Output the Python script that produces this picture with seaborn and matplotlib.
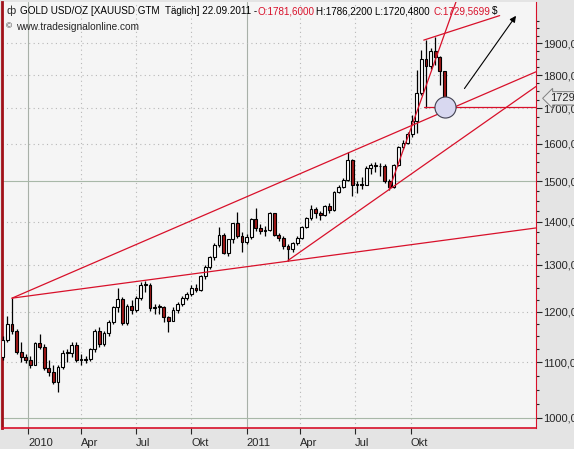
import numpy as np
import pandas as pd
import seaborn as sns
import matplotlib.pyplot as plt
import matplotlib.ticker as mticker
from matplotlib.patches import FancyArrowPatch

sns.set_style("white")
plt.rcParams['font.family'] = ['Liberation Sans', 'DejaVu Sans']

# weekly gold candles, 20.11.2009 .. 22.09.2011 (week index 0..96)
opens = [1110, 1143, 1175, 1160, 1119, 1110, 1104, 1096, 1138, 1130, 1090, 1082, 1064, 1092, 1117, 1118,
         1134, 1104, 1104, 1106, 1125, 1161, 1136, 1156, 1179, 1209, 1227, 1177, 1212, 1203, 1229, 1256,
         1256, 1208, 1210, 1209, 1189, 1181, 1204, 1215, 1228, 1237, 1249, 1246, 1275, 1296, 1317, 1346,
         1369, 1327, 1358, 1397, 1366, 1352, 1363, 1406, 1384, 1377, 1380, 1421, 1368, 1361, 1342, 1337,
         1349, 1361, 1388, 1409, 1430, 1421, 1417, 1437, 1429, 1474, 1486, 1504, 1556, 1491, 1493, 1492,
         1536, 1542, 1541, 1539, 1500, 1486, 1542, 1590, 1601, 1628, 1663, 1745, 1851, 1828, 1877, 1856,
         1812]
closes = [1143, 1175, 1160, 1119, 1110, 1104, 1096, 1138, 1130, 1090, 1082, 1064, 1092, 1117, 1118, 1134,
          1104, 1104, 1106, 1125, 1161, 1136, 1156, 1179, 1209, 1227, 1177, 1212, 1203, 1229, 1256, 1256,
          1208, 1210, 1209, 1189, 1181, 1204, 1215, 1228, 1237, 1249, 1246, 1275, 1296, 1317, 1346, 1369,
          1327, 1358, 1397, 1366, 1352, 1363, 1406, 1384, 1377, 1380, 1421, 1368, 1361, 1342, 1337, 1349,
          1361, 1388, 1409, 1430, 1421, 1417, 1437, 1429, 1474, 1486, 1504, 1556, 1491, 1493, 1492, 1536,
          1542, 1541, 1539, 1500, 1486, 1542, 1590, 1601, 1628, 1663, 1745, 1851, 1828, 1877, 1856, 1812,
          1730]
highs = [1150, 1190, 1228, 1165, 1140, 1115, 1112, 1140, 1155, 1135, 1105, 1095, 1095, 1123, 1125, 1140,
         1140, 1115, 1112, 1128, 1165, 1168, 1160, 1182, 1212, 1249, 1230, 1215, 1225, 1232, 1262, 1265,
         1260, 1216, 1215, 1211, 1192, 1210, 1220, 1232, 1240, 1255, 1258, 1278, 1300, 1320, 1350, 1387,
         1372, 1360, 1398, 1424, 1375, 1370, 1410, 1432, 1395, 1390, 1424, 1422, 1372, 1365, 1348, 1352,
         1365, 1390, 1412, 1440, 1435, 1425, 1440, 1445, 1476, 1490, 1510, 1577, 1560, 1500, 1512, 1540,
         1548, 1550, 1548, 1545, 1505, 1545, 1595, 1610, 1632, 1681, 1815, 1880, 1912, 1885, 1921, 1860,
         1786]
lows = [1105, 1140, 1155, 1115, 1100, 1098, 1090, 1095, 1125, 1085, 1075, 1060, 1045, 1088, 1100, 1110,
        1100, 1095, 1098, 1102, 1120, 1130, 1132, 1150, 1175, 1200, 1172, 1172, 1195, 1200, 1225, 1240,
        1202, 1195, 1195, 1178, 1158, 1180, 1198, 1212, 1225, 1232, 1240, 1243, 1270, 1292, 1312, 1340,
        1325, 1320, 1350, 1362, 1330, 1348, 1360, 1378, 1370, 1365, 1378, 1365, 1355, 1335, 1309, 1330,
        1345, 1358, 1385, 1405, 1408, 1405, 1414, 1420, 1425, 1470, 1482, 1500, 1462, 1470, 1480, 1490,
        1520, 1525, 1515, 1495, 1478, 1482, 1540, 1585, 1598, 1620, 1630, 1740, 1702, 1820, 1830, 1770,
        1720]

tick_pos = [5.5, 17, 29, 41, 53, 64.6, 76.6, 88.7]
tick_lab = ['2010', 'Apr', 'Jul', 'Okt', '2011', 'Apr', 'Jul', 'Okt']
price_ticks = [1000, 1100, 1200, 1300, 1400, 1500, 1600, 1700, 1800, 1900]

df = pd.DataFrame({'open': opens, 'high': highs, 'low': lows, 'close': closes})
df['idx'] = np.arange(len(df))

fig = plt.figure(figsize=(5.74, 4.49), dpi=100, facecolor='#e4e4e4')
ax = fig.add_axes([2 / 574, 1 - 428 / 449, 534 / 574, 426 / 449])
ax.set_facecolor('#f5f5f5')
ax.set_yscale('log')
ax.set_xlim(-0.17, 115.9)
ax.set_ylim(983, 2040)

# grid
for p, l in zip(tick_pos, tick_lab):
    if l.isdigit():
        ax.axvline(p, color='#a8b0a8', lw=0.8, zorder=0)
    else:
        ax.axvline(p, color='#b8b8b8', lw=0.8, ls=(0, (1, 3)), zorder=0)
for v in price_ticks:
    if v in (1000, 1500):
        ax.axhline(v, color='#a8b8a8', lw=0.8, zorder=0)
    else:
        ax.axhline(v, color='#b8b8b8', lw=0.8, ls=(0, (1, 3)), zorder=0)

# candles
ax.vlines(df['idx'], df['low'], df['high'], color='black', lw=0.9, zorder=3)
up = df['close'] >= df['open']
body_lo = df[['open', 'close']].min(axis=1)
body_h = (df['close'] - df['open']).abs().clip(lower=2)
ax.bar(df['idx'][up], body_h[up], bottom=body_lo[up], width=0.6, color='white',
       edgecolor='black', lw=0.8, zorder=4)
ax.bar(df['idx'][~up], body_h[~up], bottom=body_lo[~up], width=0.6, color='#a01818',
       edgecolor='black', lw=0.8, zorder=4)

# trend lines
red = '#d8102a'
trend = [((2, 1228), (115.9, 1810)),
         ((2, 1228), (115.9, 1385)),
         ((62, 1310), (115.9, 1765)),
         ((84, 1480), (98.5, 2040)),
         ((91.5, 1911), (108, 1993)),
         ((91.5, 1703), (115.9, 1703))]
for (x0, y0), (x1, y1) in trend:
    ax.plot([x0, x1], [y0, y1], color=red, lw=0.9, zorder=5)

sns.scatterplot(x=[96.2], y=[1703], s=230, color='#d8d8f0', edgecolor='#404050',
                linewidth=0.8, zorder=6, ax=ax)
ax.add_patch(FancyArrowPatch((100, 1752), (111.9, 2000), arrowstyle='-|>', mutation_scale=9,
                             color='black', lw=0.8, zorder=6))

# axes styling
ax.spines['top'].set_visible(False)
ax.spines['left'].set_color('#a01018')
ax.spines['left'].set_linewidth(2)
ax.spines['right'].set_color(red)
ax.spines['bottom'].set_color(red)
ax.spines['bottom'].set_linewidth(1.2)

ax.yaxis.tick_right()
ax.yaxis.set_major_locator(mticker.FixedLocator(price_ticks))
ax.yaxis.set_major_formatter(mticker.FixedFormatter([f'{v},0' for v in price_ticks]))
ax.yaxis.set_minor_locator(mticker.FixedLocator(np.arange(1000, 2000, 25)))
ax.yaxis.set_minor_formatter(mticker.NullFormatter())
ax.tick_params(axis='y', which='major', length=4, width=0.8, labelsize=8, pad=1, right=True)
ax.tick_params(axis='y', which='minor', length=2, width=0.8, right=True)
ax.set_xticks(tick_pos)
ax.set_xticklabels(tick_lab, ha='left')
ax.tick_params(axis='x', length=4, width=0.8, labelsize=8, pad=3, bottom=True)

ax.annotate('1729', xy=(1.005, 1729.57), xycoords=('axes fraction', 'data'), xytext=(8, 0),
            textcoords='offset points', va='center', ha='left', fontsize=8,
            bbox=dict(boxstyle='larrow,pad=0.15', fc='#e8e8e8', ec='#808080', lw=0.7))

# header
hy = 1 - 11 / 449
parts = [(20, 'GOLD USD/OZ [XAUUSD GTM  Täglich] 22.09.2011 - ', 'black'),
         (258, 'O:1781,6000', red),
         (316, 'H:1786,2200 L:1720,4800', 'black'),
         (434, 'C:1729,5699', red),
         (492, '$', 'black')]
fig.text(6 / 574, hy, 'ф', fontsize=8, va='center')
for x, t, c in parts:
    fig.text(x / 574, hy, t, color=c, fontsize=7.1, va='center')
fig.text(6 / 574, 1 - 27 / 449, '©', fontsize=6, va='center')
fig.text(16 / 574, 1 - 27 / 449, 'www.tradesignalonline.com', fontsize=7.3, va='center')

fig.savefig('out.png', dpi=100, facecolor=fig.get_facecolor())
